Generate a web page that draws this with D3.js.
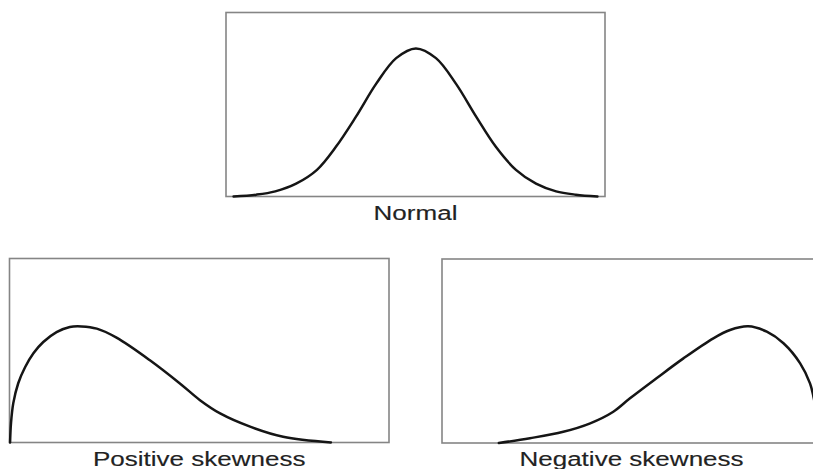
<!DOCTYPE html>
<html>
<head>
<meta charset="utf-8">
<script src="https://cdn.jsdelivr.net/npm/d3@7"></script>
<style>
  html, body { margin: 0; padding: 0; background: #fff; overflow: hidden; }
  svg { display: block; }
</style>
</head>
<body>
<svg id="chart" width="813" height="469"></svg>
<script>
// Density curves: x in percent of the panel's range, y as relative density.
const normalX   = [2, 8, 13, 18.5, 24, 29, 34.3, 39.6, 44.9, 50.1, 55.4, 60.7, 66, 71.2, 76.5, 81.8, 87.1, 92.3, 98];
const normalY   = [0, 0.01, 0.028, 0.07, 0.145, 0.27, 0.434, 0.612, 0.752, 0.805, 0.752, 0.612, 0.434, 0.27, 0.145, 0.07, 0.028, 0.01, 0];

const positiveX = [0.15, 0.4, 1.0, 2.3, 4.1, 6.3, 8.9, 12.4, 15.9, 19.0, 23.0, 28.2, 37.0, 44.9, 50.2, 55.5, 63.4, 72.1, 84.7];
const positiveY = [0, 0.106, 0.214, 0.322, 0.409, 0.485, 0.546, 0.600, 0.628, 0.631, 0.619, 0.570, 0.447, 0.321, 0.230, 0.158, 0.086, 0.031, 0];

const negativeX = [15.0, 23.2, 32.0, 39.1, 45.2, 49.6, 56.6, 63.7, 71.6, 76.0, 80.8, 85.7, 90.1, 94.5, 97.1, 98.0, 99.0, 99.85];
const negativeY = [0, 0.026, 0.061, 0.107, 0.170, 0.243, 0.352, 0.460, 0.569, 0.614, 0.634, 0.605, 0.542, 0.433, 0.324, 0.252, 0.14, 0];

const panelLabels = ["Normal", "Positive skewness", "Negative skewness"];

// Panel frames (pixel layout)
const panels = [
  { x: 226,  y: 12.5, w: 379, h: 184, xs: normalX,   ys: normalY,   label: panelLabels[0], labelY: 220 },
  { x: 9.5,  y: 258.5, w: 379.5, h: 184, xs: positiveX, ys: positiveY, label: panelLabels[1], labelY: 466 },
  { x: 442,  y: 259, w: 379, h: 184, xs: negativeX, ys: negativeY, label: panelLabels[2], labelY: 466 }
];

const svg = d3.select("#chart");

panels.forEach(p => {
  const x = d3.scaleLinear().domain([0, 100]).range([p.x, p.x + p.w]);
  const y = d3.scaleLinear().domain([0, 1]).range([p.y + p.h, p.y]);

  const g = svg.append("g");

  g.append("rect")
    .attr("x", p.x)
    .attr("y", p.y)
    .attr("width", p.w)
    .attr("height", p.h)
    .attr("fill", "none")
    .attr("stroke", "#858585")
    .attr("stroke-width", 1.6);

  const pts = p.xs.map((v, i) => [v, p.ys[i]]);
  const line = d3.line()
    .x(d => x(d[0]))
    .y(d => y(d[1]))
    .curve(d3.curveCatmullRom.alpha(0.5));

  g.append("path")
    .datum(pts)
    .attr("d", line)
    .attr("fill", "none")
    .attr("stroke", "#151515")
    .attr("stroke-width", 2.5)
    .attr("stroke-linecap", "round")
    .attr("stroke-linejoin", "round");

  const cx = p.x + p.w / 2;
  g.append("text")
    .attr("transform", `translate(${cx},${p.labelY}) scale(1.24,1)`)
    .attr("text-anchor", "middle")
    .attr("font-family", "'Liberation Sans', Arial, Helvetica, sans-serif")
    .attr("font-size", 21)
    .attr("fill", "#222")
    .attr("stroke", "#222")
    .attr("stroke-width", 0.15)
    .text(p.label);
});
</script>
</body>
</html>
